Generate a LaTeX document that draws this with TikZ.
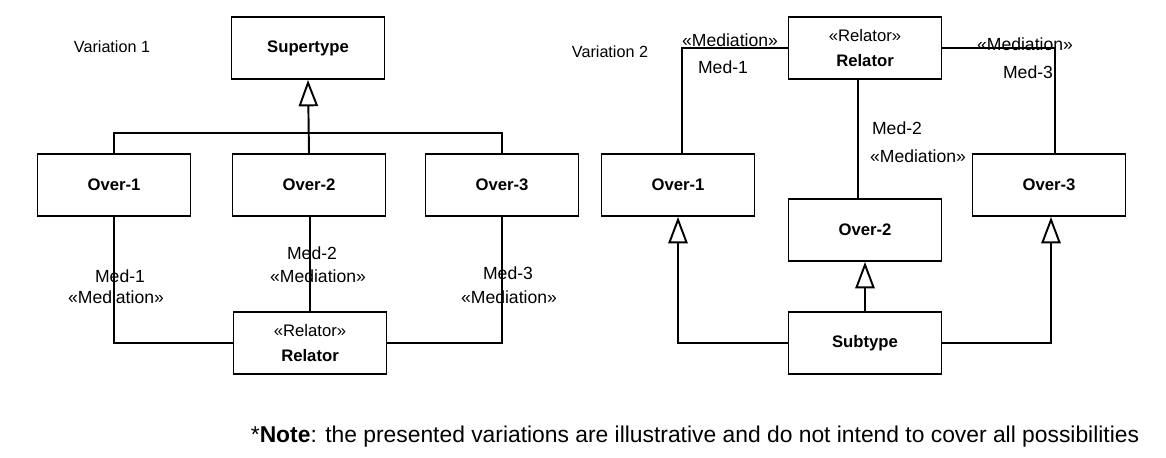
\documentclass[tikz,border=0pt]{standalone}
\usepackage{fontspec}
\setmainfont{Liberation Sans}
\usetikzlibrary{arrows.meta}

\begin{document}
\begin{tikzpicture}[x=0.02cm,y=-0.02cm,
    cls/.style={draw,line width=1.1pt,minimum width=3.06cm,minimum height=1.24cm,
        font=\fontsize{9.5}{12}\selectfont\bfseries,align=center},
    lbl/.style={font=\fontsize{10}{12}\selectfont},
    conn/.style={line width=1.1pt},
    gen/.style={conn,-{Triangle[open,width=11pt,length=15pt]}}]
    \useasboundingbox (0,0) rectangle (1166,457);
    % Variation 1
    \node[lbl,font=\fontsize{9.2}{11}\selectfont] (var1) at (112,47) {Variation 1};
    \node[cls] (sup) at (308,48) {Supertype};
    \node[cls] (oa1) at (114,185) {Over-1};
    \node[cls] (oa2) at (309,185) {Over-2};
    \node[cls] (oa3) at (502,185) {Over-3};
    \node[cls] (rela) at (310,343) {\mdseries «Relator»\\[-1pt] \raisebox{-3pt}{Relator}};
    % generalization set
    \draw[gen] (oa2.north) -- (sup.south);
    \draw[conn] (oa1.north) -- ++(0,-20) -| (oa3.north);
    % mediations
    \draw[conn] (oa1.south) |- (rela.west);
    \draw[conn] (oa2.south -| rela.north) -- (rela.north);
    \draw[conn] (oa3.south) |- (rela.east);
    \node[lbl] (ma1) at (120,276) {Med-1};
    \node[lbl] (sa1) at (116,297) {«Mediation»};
    \node[lbl] (ma2) at (312,253) {Med-2};
    \node[lbl] (sa2) at (318,276) {«Mediation»};
    \node[lbl] (ma3) at (508,273) {Med-3};
    \node[lbl] (sa3) at (509,297) {«Mediation»};
    % Variation 2
    \node[lbl,font=\fontsize{9.2}{11}\selectfont] (var2) at (610,52) {Variation 2};
    \node[cls] (relb) at (865,48) {\mdseries «Relator»\\[-1pt] \raisebox{-3pt}{Relator}};
    \node[cls] (ob1) at (678,185) {Over-1};
    \node[cls] (ob2) at (865,230) {Over-2};
    \node[cls] (ob3) at (1049,185) {Over-3};
    \node[cls] (sub) at (865,343) {Subtype};
    % mediations
    \draw[conn] (relb.west) -| ([xshift=0.08cm]ob1.north);
    \draw[conn] (relb.east) -| ([xshift=0.12cm]ob3.north);
    \draw[conn] ([xshift=-0.14cm]relb.south) -- ([xshift=-0.14cm]ob2.north);
    \node[lbl] (sb1) at (730,40) {«Mediation»};
    \node[lbl] (mb1) at (723,67) {Med-1};
    \node[lbl] (sb3) at (1025,44) {«Mediation»};
    \node[lbl] (mb3) at (1028,72) {Med-3};
    \node[lbl] (mb2) at (897,128) {Med-2};
    \node[lbl] (sb2) at (918,156) {«Mediation»};
    % generalizations
    \draw[gen] (sub.west) -| (ob1.south);
    \draw[gen] (sub.north) -- (ob2.south);
    \draw[gen] (sub.east) -| ([xshift=0.04cm]ob3.south);
    % note
    \node[font=\fontsize{13}{15}\selectfont] (note) at (695,437)
        {*\textbf{Note}: the presented variations are illustrative and do not intend to cover all possibilities};
\end{tikzpicture}
\end{document}
